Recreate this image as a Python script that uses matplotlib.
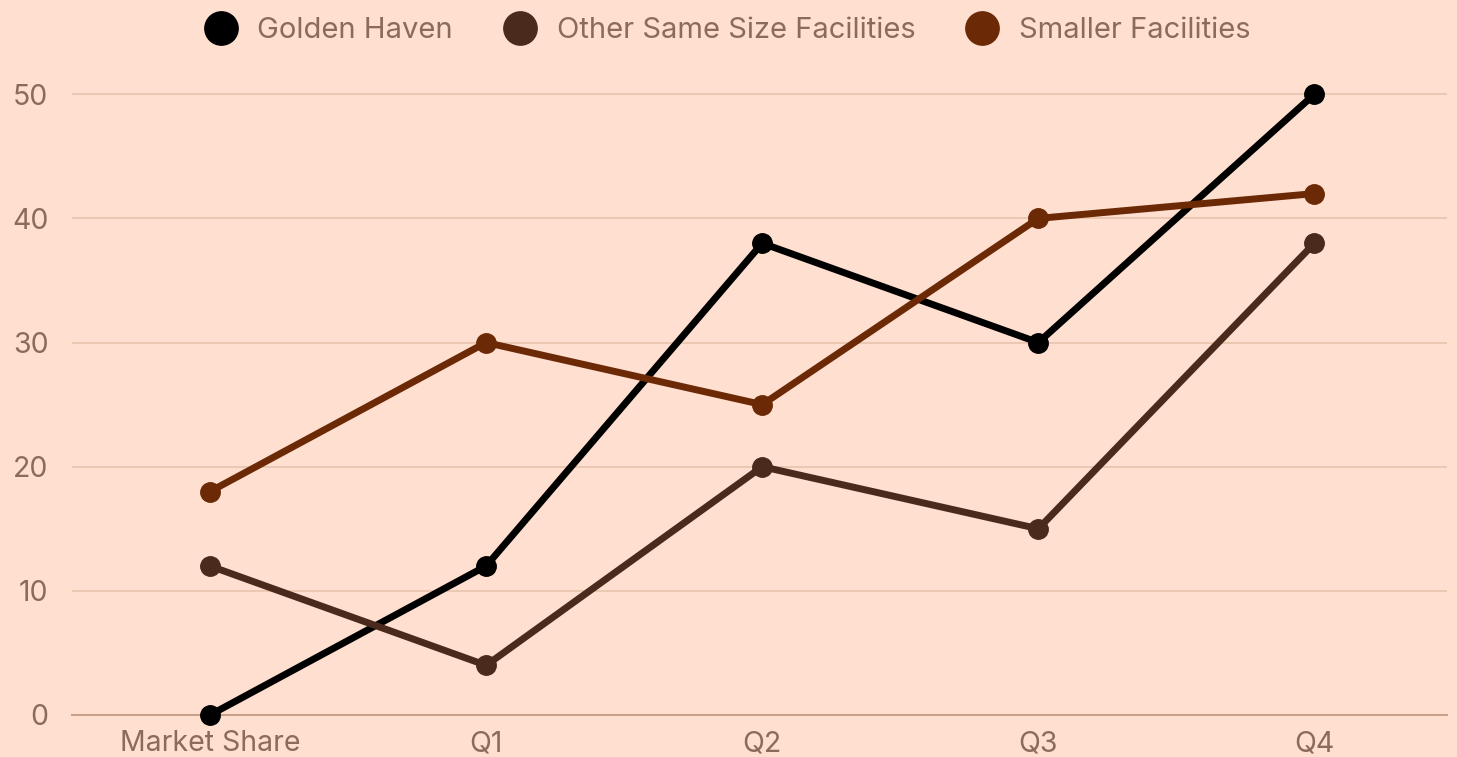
import matplotlib.pyplot as plt
from matplotlib.lines import Line2D

plt.rcParams['font.family'] = ['Inter', 'DejaVu Sans']

categories = ['Market Share', 'Q1', 'Q2', 'Q3', 'Q4']
golden_haven = [0, 12, 38, 30, 50]
same_size = [12, 4, 20, 15, 38]
smaller = [18, 30, 25, 40, 42]

series = [
    ('Golden Haven', golden_haven, '#000000'),
    ('Other Same Size Facilities', same_size, '#4a2a1c'),
    ('Smaller Facilities', smaller, '#6b2906'),
]

bg = '#ffdfd0'
text_color = '#8c6b5a'

fig = plt.figure(figsize=(14.57, 7.57), dpi=100, facecolor=bg)
ax = fig.add_axes([0.0494, 0.0555, 0.9437, 0.902])
ax.set_facecolor(bg)

x = list(range(len(categories)))
for name, vals, color in series:
    ax.plot(x, vals, color=color, lw=5, marker='o', ms=14, label=name,
            clip_on=False, zorder=3)

ax.set_xlim(-0.5, 4.48)
ax.set_ylim(0, 55)
ax.set_yticks([0, 10, 20, 30, 40, 50])
ax.set_xticks(x)
ax.set_xticklabels(categories)
ax.grid(axis='y', color='#e9c6ae', lw=1.3, zorder=0)
for s in ['top', 'right', 'left']:
    ax.spines[s].set_visible(False)
ax.spines['bottom'].set_color('#c9a08a')
ax.spines['bottom'].set_linewidth(1.5)
ax.tick_params(axis='both', length=0, labelsize=20.5, colors=text_color)
ax.tick_params(axis='x', pad=11)
ax.tick_params(axis='y', pad=17)

handles = [Line2D([], [], color=c, marker='o', ls='', ms=24) for _, _, c in series]
fig.legend(handles, [s[0] for s in series], loc='upper center', bbox_to_anchor=(0.495, 1.012),
           ncol=3, frameon=False, fontsize=21, labelcolor=text_color,
           handletextpad=0.25, columnspacing=1.3)

fig.savefig('out.png', dpi=100, facecolor=bg)
